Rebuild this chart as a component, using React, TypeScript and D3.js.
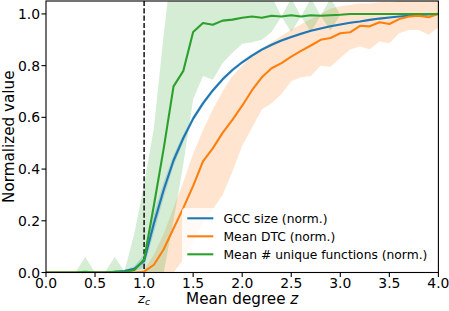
import React from "react";
import * as d3 from "d3";

const Z = [0,0.1,0.2,0.3,0.4,0.5,0.6,0.7,0.8,0.9,1.0,1.1,1.2,1.3,1.4,1.5,1.6,1.7,1.8,1.9,2.0,2.1,2.2,2.3,2.4,2.5,2.6,2.7,2.8,2.9,3.0,3.1,3.2,3.3,3.4,3.5,3.6,3.7,3.8,3.9,4.0];

const gccMean = [0,0,0,0,0,0.001,0.001,0.003,0.006,0.014,0.045,0.19,0.32,0.433,0.52,0.595,0.654,0.704,0.747,0.783,0.813,0.839,0.862,0.881,0.897,0.911,0.923,0.935,0.944,0.952,0.959,0.966,0.971,0.977,0.982,0.986,0.99,0.993,0.996,0.998,1.0];
const gccStd = [0,0,0,0,0,0,0,0,0.004,0.01,0.025,0.035,0.03,0.02,0.015,0.012,0.01,0.009,0.008,0.008,0.007,0.007,0.006,0.006,0.005,0.005,0.005,0.004,0.004,0.004,0.004,0.003,0.003,0.003,0.003,0.003,0.002,0.002,0.002,0.002,0.002];

const dtcMean = [0,0,0,0,0,0,0,0,0,0,0.003,0.03,0.09,0.17,0.25,0.335,0.43,0.48,0.54,0.59,0.645,0.705,0.755,0.79,0.81,0.835,0.857,0.878,0.9,0.907,0.925,0.929,0.954,0.952,0.968,0.961,0.98,0.99,0.993,0.987,1.0];
const dtcUpper = [0,0,0,0,0,0,0,0,0,0,0.01,0.07,0.15,0.25,0.35,0.46,0.55,0.63,0.7,0.76,0.8,0.835,0.865,0.89,0.915,0.94,0.96,0.98,1.0,1.02,1.03,1.035,1.04,1.04,1.045,1.045,1.05,1.06,1.06,1.06,1.06];
const dtcLower = [0,0,0,0,0,0,0,0,0,0,0,0,0,0,0.05,0.12,0.19,0.245,0.3,0.39,0.49,0.56,0.63,0.655,0.69,0.74,0.755,0.76,0.8,0.796,0.83,0.862,0.874,0.863,0.893,0.887,0.925,0.938,0.938,0.919,0.948];

const uniqMean = [0,0,0,0,0.003,0,0,0.003,0.002,0.01,0.05,0.26,0.48,0.72,0.78,0.93,0.965,0.958,0.974,0.978,0.985,0.99,0.985,0.993,0.99,0.995,0.99,0.995,0.993,0.995,0.997,1,1,1,1,1,1,1,1,1,1];
const uniqUpper = [0,0,0,0,0.06,0,0,0.06,0.005,0.15,0.34,0.56,0.92,1.25,1.2,1.15,1.12,1.12,1.1,1.1,1.09,1.09,1.08,1.07,0.99,1.06,0.99,1.06,0.993,1.06,0.997,1,1,1,1,1,1,1,1,1,1];
const uniqLower = [0,0,0,0,0,0,0,0,0,0,0,0,0,0.2,0.42,0.67,0.76,0.745,0.81,0.85,0.885,0.89,0.9,0.93,0.99,0.93,0.99,0.93,0.993,0.935,0.997,1,1,1,1,1,1,1,1,1,1];

const xTicks = [0, 0.5, 1.0, 1.5, 2.0, 2.5, 3.0, 3.5, 4.0];
const yTicks = [0, 0.2, 0.4, 0.6, 0.8, 1.0];
const legendLabels = ["GCC size (norm.)", "Mean DTC (norm.)", "Mean # unique functions (norm.)"];
const colors = ["#1f77b4", "#ff7f0e", "#2ca02c"];
const criticalZ = 1.0;

const W = 449, H = 311;
const L = 46, R = 438.4, T = 1, B = 272.5;
const FONT = "'DejaVu Sans', sans-serif";

export default function App() {
  const x = d3.scaleLinear().domain([0, 4]).range([L, R]);
  const y = d3.scaleLinear().domain([0, 1.05]).range([B, T]);

  const band = (lo: number[], hi: number[]) =>
    d3.area<number>().x((_, i) => x(Z[i])).y0((_, i) => y(lo[i])).y1((_, i) => y(hi[i]))(Z as any) || "";
  const line = (v: number[]) => d3.line<number>().x((_, i) => x(Z[i])).y((_, i) => y(v[i]))(Z as any) || "";

  const gLo = gccMean.map((m, i) => Math.max(0, m - gccStd[i]));
  const gHi = gccMean.map((m, i) => m + gccStd[i]);

  const bands = [
    { lo: gLo, hi: gHi, c: colors[0] },
    { lo: dtcLower, hi: dtcUpper, c: colors[1] },
    { lo: uniqLower, hi: uniqUpper, c: colors[2] },
  ];
  const lines = [gccMean, dtcMean, uniqMean];

  return (
    <svg width={W} height={H} style={{ position: "absolute", left: 0, top: 0, background: "#fff" }} fontFamily={FONT}>
      <defs>
        <clipPath id="plot">
          <rect x={L} y={T} width={R - L} height={B - T} />
        </clipPath>
      </defs>
      <rect x={0} y={0} width={W} height={H} fill="#fff" />
      <g clipPath="url(#plot)">
        {bands.map((b, i) => (
          <path key={i} d={band(b.lo, b.hi)} fill={b.c} fillOpacity={0.2} stroke="none" />
        ))}
        <line x1={x(criticalZ)} x2={x(criticalZ)} y1={T} y2={B} stroke="#000" strokeWidth={1.4} strokeDasharray="5.1,2.2" />
        {lines.map((v, i) => (
          <path key={i} d={line(v)} fill="none" stroke={colors[i]} strokeWidth={2.1} strokeLinejoin="round" strokeLinecap="square" />
        ))}
      </g>
      {/* legend */}
      <g>
        <rect x={182} y={208} width={250} height={58} rx={3} fill="#fff" fillOpacity={0.8} />
        {legendLabels.map((lab, i) => {
          const ly = 218.3 + i * 18;
          return (
            <g key={i}>
              <line x1={187.3} x2={213.3} y1={ly} y2={ly} stroke={colors[i]} strokeWidth={2.1} />
              <text x={223.5} y={ly + 4.5} fontSize={12.3} fill="#000">{lab}</text>
            </g>
          );
        })}
      </g>
      {/* spines */}
      <rect x={L} y={T} width={R - L} height={B - T} fill="none" stroke="#000" strokeWidth={1.1} />
      {/* x ticks */}
      {xTicks.map((t) => (
        <g key={t}>
          <line x1={x(t)} x2={x(t)} y1={B} y2={B + 4.5} stroke="#000" strokeWidth={1.1} />
          <text x={x(t)} y={288} fontSize={13.9} textAnchor="middle" fill="#000">{t.toFixed(1)}</text>
        </g>
      ))}
      {yTicks.map((t) => (
        <g key={t}>
          <line x1={L - 4.5} x2={L} y1={y(t)} y2={y(t)} stroke="#000" strokeWidth={1.1} />
          <text x={40} y={y(t) + 5} fontSize={13.9} textAnchor="end" fill="#000">{t.toFixed(1)}</text>
        </g>
      ))}
      {/* z_c */}
      <text x={x(criticalZ) - 6} y={302.5} fontSize={13} fill="#000">
        <tspan fontStyle="italic">z</tspan>
        <tspan fontSize={9.2} dy={2.5} fontStyle="italic">c</tspan>
      </text>
      {/* axis labels */}
      <text x={(L + R) / 2} y={304} fontSize={15.2} textAnchor="middle" fill="#000">
        Mean degree <tspan fontStyle="italic">z</tspan>
      </text>
      <text transform={`translate(13.5,${(T + B) / 2}) rotate(-90)`} fontSize={15.2} textAnchor="middle" fill="#000">
        Normalized value
      </text>
    </svg>
  );
}
